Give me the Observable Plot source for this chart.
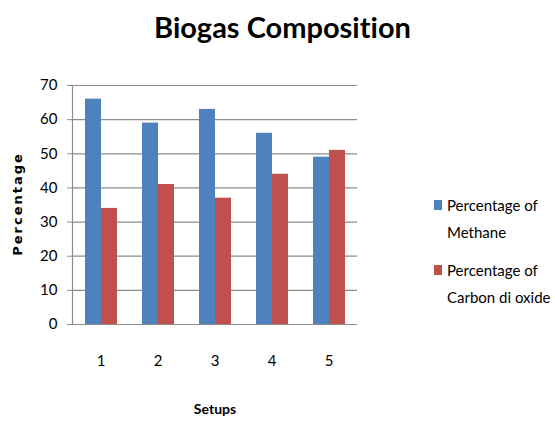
<!DOCTYPE html>
<html><head><meta charset="utf-8">
<script src="https://cdn.jsdelivr.net/npm/d3@7"></script>
<script src="https://cdn.jsdelivr.net/npm/@observablehq/plot@0.6"></script>
<style>
body{margin:0;background:#fff;}
#wrap{position:relative;width:555px;height:421px;background:#fff;font-family:Lato,"Open Sans",sans-serif;font-variant-ligatures:none;}
#title{position:absolute;top:9px;left:5px;width:555px;text-align:center;font-weight:bold;font-size:29px;color:#000;font-family:Lato,sans-serif;}
#chart{position:absolute;left:0;top:60px;}
#legend{position:absolute;left:434px;top:192px;font-size:15px;line-height:27px;color:#000;white-space:nowrap;}
.item{display:flex;align-items:flex-start;margin-bottom:11px;}
.sw{width:8px;height:10px;margin-top:8px;margin-right:5px;flex:none;}
#ylab{position:absolute;left:17px;top:204px;transform:translate(-50%,-50%) rotate(-90deg);font-weight:bold;font-size:13px;letter-spacing:2px;white-space:nowrap;font-family:"DejaVu Sans",sans-serif;}
</style></head>
<body>
<div id="wrap">
  <div id="title">Biogas Composition</div>
  <div id="chart"></div>
  <div id="ylab">Percentage</div>
  <div id="legend"></div>
</div>
<script>
const setups = ["1", "2", "3", "4", "5"];
const seriesNames = ["Percentage of Methane", "Percentage of Carbon di oxide"];
const methane = [66, 59, 63, 56, 49];
const carbonDioxide = [34, 41, 37, 44, 51];
const colors = ["#4f81bd", "#c0504d"];
const yTicks = [0, 10, 20, 30, 40, 50, 60, 70];

const data = [];
setups.forEach((s, i) => {
  data.push({setup: s, series: seriesNames[0], value: methane[i]});
  data.push({setup: s, series: seriesNames[1], value: carbonDioxide[i]});
});

const gap = 12;
const plot = Plot.plot({
  width: 400,
  height: 361,
  marginTop: 25,
  marginBottom: 97,
  marginLeft: 72,
  marginRight: 42,
  style: {fontFamily: "Lato, sans-serif", fontSize: "15px", color: "#000", background: "transparent"},
  fx: {domain: setups, paddingInner: 0.42, paddingOuter: 0.21, label: null, axis: null},
  x: {domain: seriesNames, padding: 0, axis: null},
  y: {domain: [0, 70], axis: null},
  color: {domain: seriesNames, range: colors},
  marks: [
    Plot.ruleY(yTicks, {y: d => d, stroke: "#8c8c8c", strokeWidth: 1.2, insetLeft: -gap, insetRight: -gap}),
    Plot.barY(data, {fx: "setup", x: "series", y: "value", fill: "series"}),
    Plot.ruleY([0], {stroke: "#8c8c8c", strokeWidth: 1.2, insetLeft: -gap, insetRight: -gap}),
    Plot.axisY({ticks: yTicks, tickSize: 5, dx: -gap, tickPadding: 10, anchor: "left", stroke: "#8c8c8c", fill: "#000", fontSize: 15, label: null}),
    Plot.frame({anchor: "left", facetAnchor: "left", insetLeft: -gap, stroke: "#8c8c8c", strokeWidth: 1.2}),
    Plot.axisFx({anchor: "bottom", tickSize: 0, tickPadding: 31, label: null, fontSize: 15}),
    Plot.text(["Setups"], {frameAnchor: "bottom", facet: "super", dy: 89, fontWeight: "bold", fontSize: 14, text: d => d})
  ]
});
document.getElementById("chart").appendChild(plot);

const legend = document.getElementById("legend");
const legendLines = [["Percentage of", "Methane"], ["Percentage of", "Carbon di oxide"]];
legendLines.forEach((lines, i) => {
  const it = document.createElement("div");
  it.className = "item";
  it.innerHTML = `<div class="sw" style="background:${colors[i]}"></div><div>${lines.join("<br>")}</div>`;
  legend.appendChild(it);
});
</script>
</body></html>
